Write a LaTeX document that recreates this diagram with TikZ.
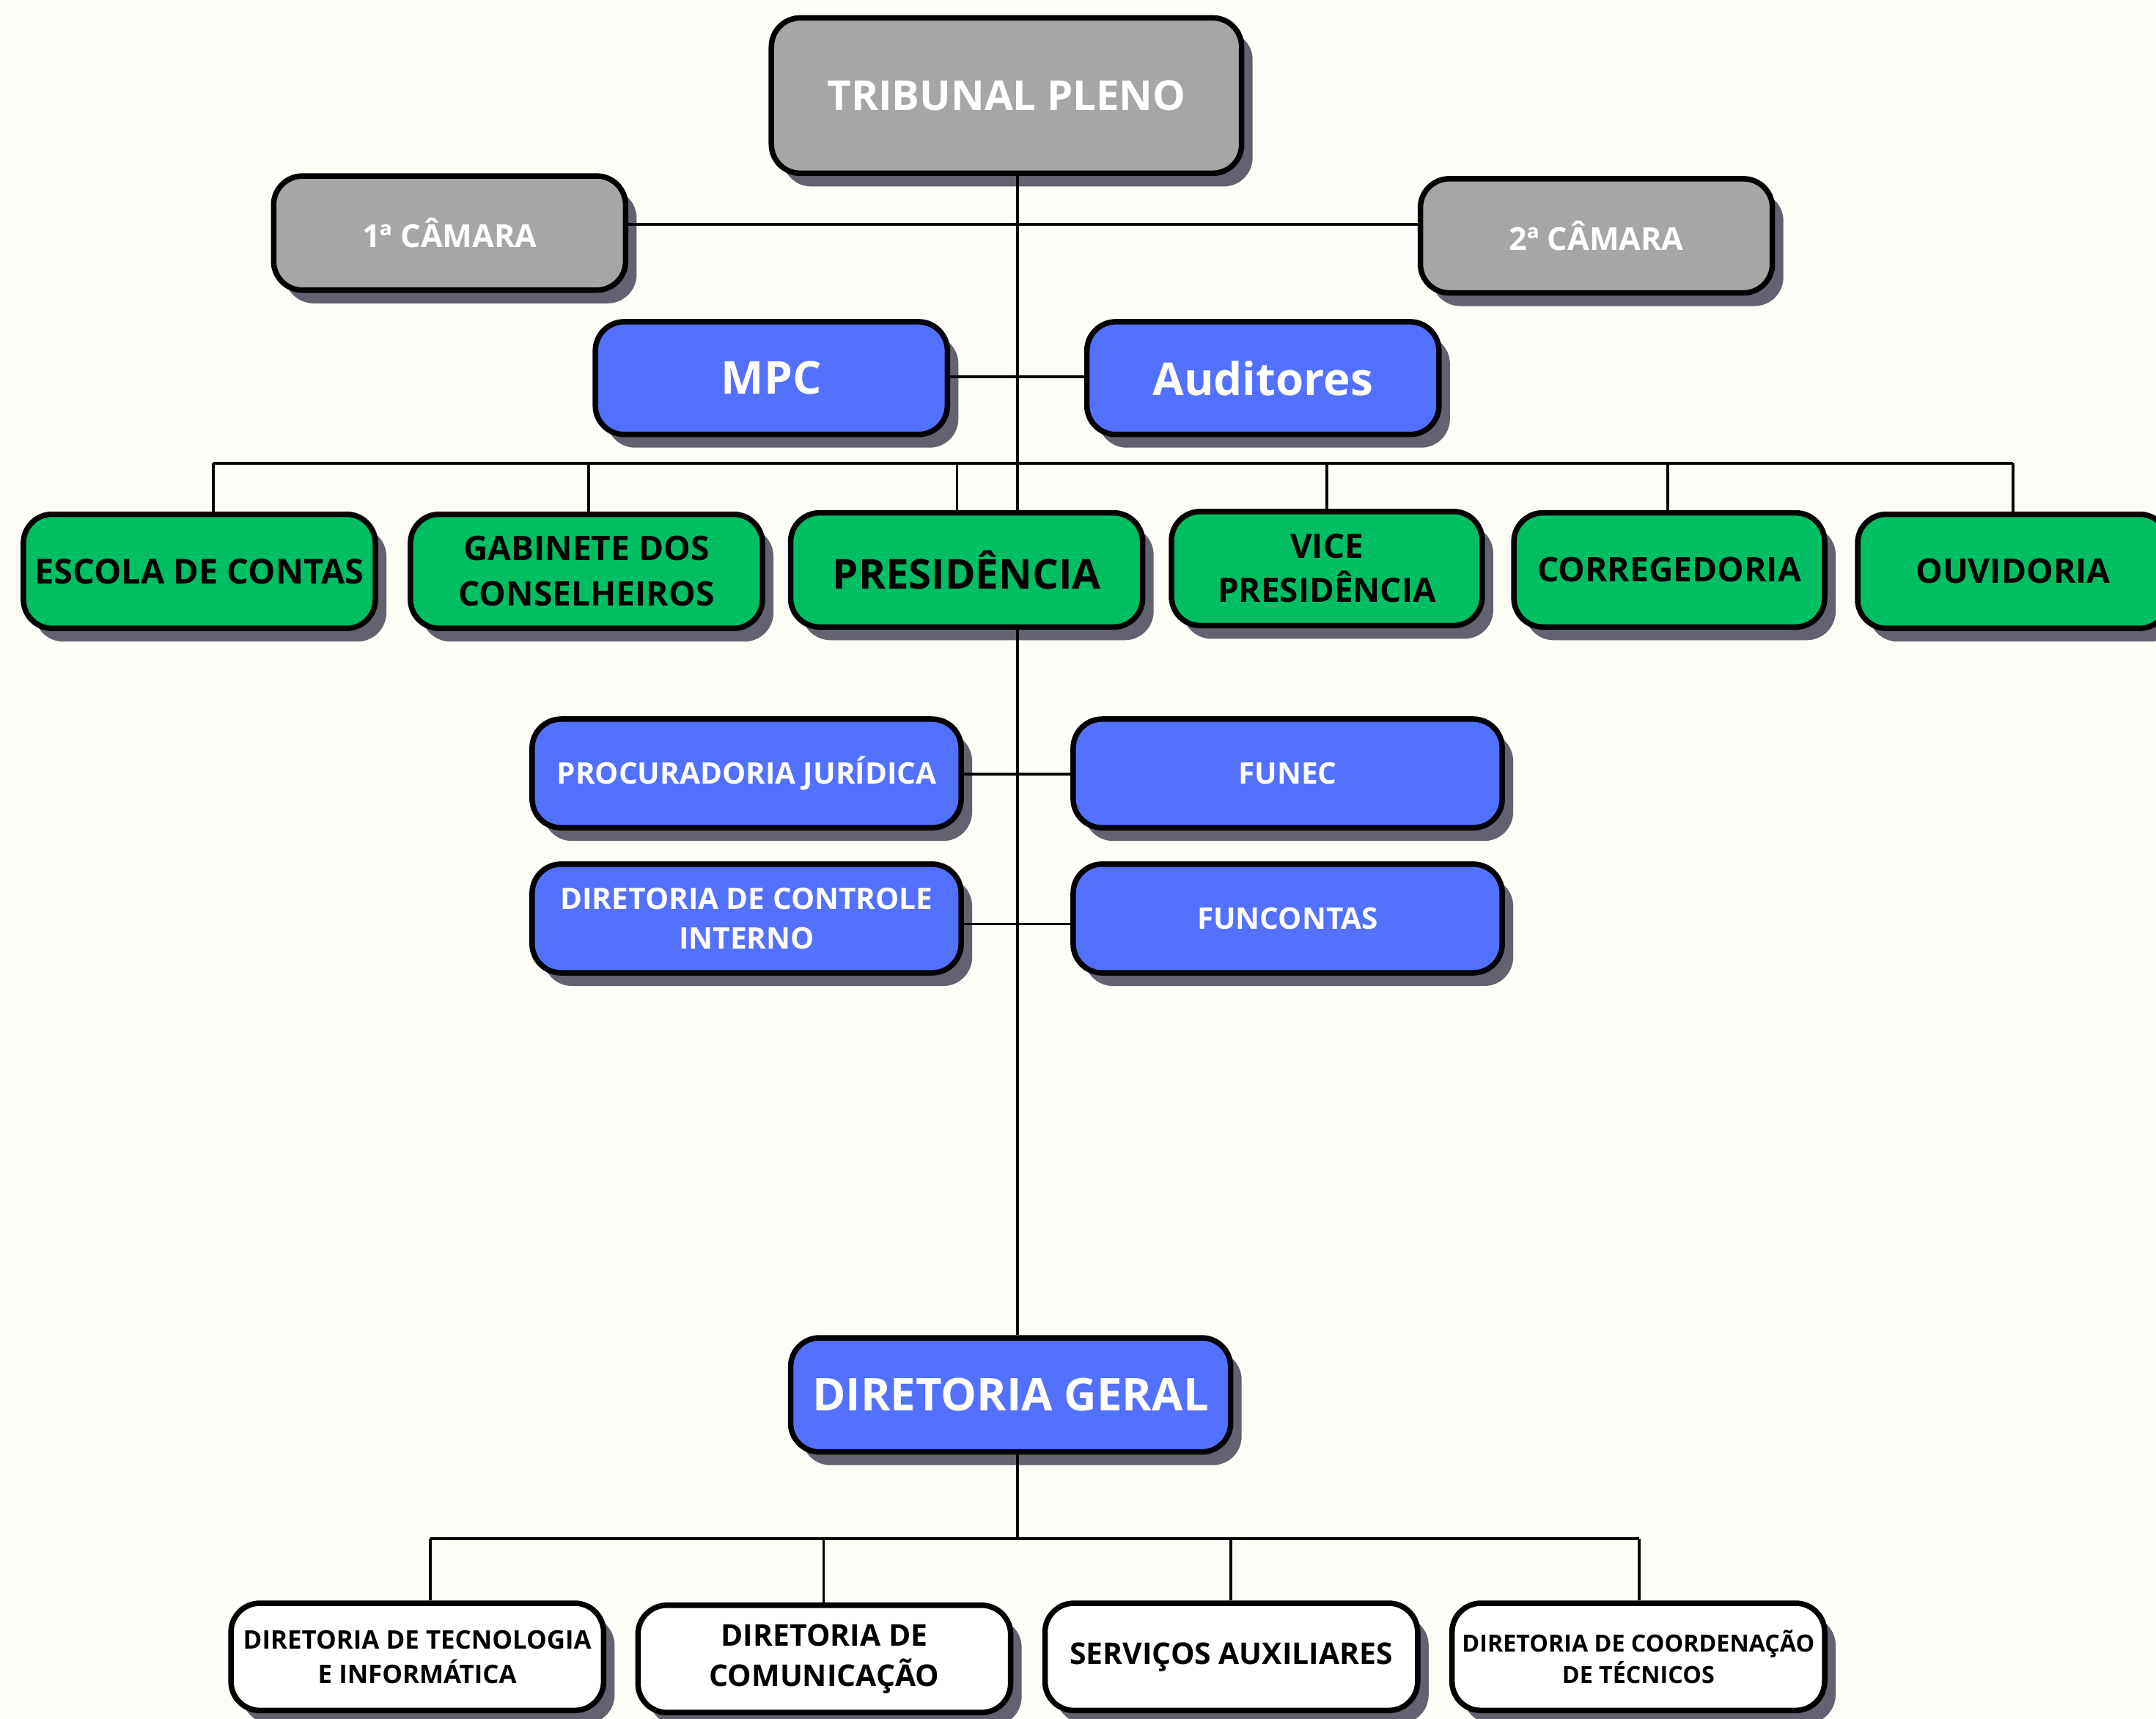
\documentclass[tikz,border=0pt]{standalone}
\usepackage{fontspec}
\setmainfont{Open Sans}
\usetikzlibrary{shadows}
\definecolor{bgc}{RGB}{253,252,247}
\definecolor{grayc}{RGB}{166,166,166}
\definecolor{bluec}{RGB}{82,113,255}
\definecolor{greenc}{RGB}{0,191,99}
\definecolor{shadowc}{RGB}{99,98,112}
\tikzset{
  box/.style={draw=black, line width=2pt, rounded corners=10.5pt, align=center, inner sep=0pt,
    drop shadow={shadow xshift=4pt, shadow yshift=-4.8pt, fill=shadowc, opacity=1}},
  graybox/.style={box, fill=grayc, text=white},
  bluebox/.style={box, fill=bluec, text=white},
  greenbox/.style={box, fill=greenc, text=black},
  whitebox/.style={box, fill=white, text=black},
  conn/.style={draw=black, line width=1pt},
}
\newcommand{\fs}[2]{\fontsize{#1}{#2}\selectfont\bfseries}
\begin{document}
\begin{tikzpicture}[x=0.5pt,y=-0.5pt]
\fill[bgc] (0,0) rectangle (1568,1250);
\useasboundingbox (0,0) rectangle (1568,1250);

% coordinates for connector routing
\coordinate (sp) at (740,0);
\coordinate (hc) at (0,163);
\coordinate (hm) at (0,274);
\coordinate (bus) at (0,337);
\coordinate (hp) at (0,563);
\coordinate (hd) at (0,672);
\coordinate (bus2) at (0,1119);
\coordinate (d1) at (155,0);
\coordinate (d2) at (428,0);
\coordinate (d3) at (696,0);
\coordinate (d4) at (965,0);
\coordinate (d5) at (1213,0);
\coordinate (d6) at (1464,0);
\coordinate (b1) at (313,0);
\coordinate (b2) at (599,0);
\coordinate (b3) at (895,0);
\coordinate (b4) at (1192,0);

\node[graybox, minimum width=171pt, minimum height=56.5pt, font=\fs{15}{18}] (tp) at (732,69.5) {TRIBUNAL PLENO};
\node[graybox, minimum width=128pt, minimum height=41.5pt, font=\fs{11.5}{14}] (cam1) at (327,169.5) {1ª CÂMARA};
\node[graybox, minimum width=128pt, minimum height=41.5pt, font=\fs{11.5}{14}] (cam2) at (1161,171.5) {2ª CÂMARA};

\node[bluebox, minimum width=128pt, minimum height=41pt, font=\fs{16.5}{20}] (mpc) at (561,275) {MPC};
\node[bluebox, minimum width=128pt, minimum height=41pt, font=\fs{16.5}{20}] (aud) at (918.5,275) {Auditores};

\node[greenbox, minimum width=128pt, minimum height=41.5pt, font=\fs{12.5}{16.5}] (esc) at (145,415.5) {ESCOLA DE CONTAS};
\node[greenbox, minimum width=128pt, minimum height=41.5pt, font=\fs{12.3}{16.5}] (gab) at (426.5,415.5) {GABINETE DOS\\CONSELHEIROS};
\node[greenbox, minimum width=128pt, minimum height=41.5pt, font=\fs{15}{18}] (pres) at (703,414.5) {PRESIDÊNCIA};
\node[greenbox, minimum width=113pt, minimum height=41.5pt, font=\fs{12.2}{16}] (vice) at (965,413.5) {VICE\\PRESIDÊNCIA};
\node[greenbox, minimum width=113pt, minimum height=41.5pt, font=\fs{12.3}{16}] (corr) at (1214,414.5) {CORREGEDORIA};
\node[greenbox, minimum width=113pt, minimum height=41.5pt, font=\fs{12.3}{16}] (ouv) at (1464,415.5) {OUVIDORIA};

\node[bluebox, minimum width=156pt, minimum height=39.5pt, font=\fs{10.8}{14.5}] (proc) at (543,562.5) {PROCURADORIA JURÍDICA};
\node[bluebox, minimum width=156pt, minimum height=39.5pt, font=\fs{10.8}{14.5}] (funec) at (936.5,562.5) {FUNEC};
\node[bluebox, minimum width=156pt, minimum height=39.5pt, font=\fs{10.8}{14.5}] (dci) at (543,668) {DIRETORIA DE CONTROLE\\INTERNO};
\node[bluebox, minimum width=156pt, minimum height=39.5pt, font=\fs{10.8}{14.5}] (func) at (936.5,668) {FUNCONTAS};

\node[bluebox, minimum width=160pt, minimum height=41.5pt, font=\fs{16.4}{20}] (dg) at (735,1014.5) {DIRETORIA GERAL};

\node[whitebox, minimum width=135.5pt, minimum height=39pt, font=\fs{9.3}{12.5}] (ti) at (303.5,1205) {DIRETORIA DE TECNOLOGIA\\E INFORMÁTICA};
\node[whitebox, minimum width=135.5pt, minimum height=39pt, font=\fs{10.9}{14.5}] (com) at (599.5,1206.5) {DIRETORIA DE\\COMUNICAÇÃO};
\node[whitebox, minimum width=135.5pt, minimum height=39pt, font=\fs{10.9}{14}] (serv) at (895.5,1205) {SERVIÇOS AUXILIARES};
\node[whitebox, minimum width=135.5pt, minimum height=39pt, font=\fs{8.6}{11.5}] (coord) at (1191.5,1205) {DIRETORIA DE COORDENAÇÃO\\DE TÉCNICOS};

% connectors
\draw[conn] (sp |- tp.south) -- (sp |- pres.north);
\draw[conn] (cam1.east |- hc) -- (cam2.west |- hc);
\draw[conn] (mpc.east |- hm) -- (aud.west |- hm);
\draw[conn] (d1 |- bus) -- (d6 |- bus);
\draw[conn] (d1 |- bus) -- (d1 |- esc.north);
\draw[conn] (d2 |- bus) -- (d2 |- gab.north);
\draw[conn] (d3 |- bus) -- (d3 |- pres.north);
\draw[conn] (d4 |- bus) -- (d4 |- vice.north);
\draw[conn] (d5 |- bus) -- (d5 |- corr.north);
\draw[conn] (d6 |- bus) -- (d6 |- ouv.north);
\draw[conn] (sp |- pres.south) -- (sp |- dg.north);
\draw[conn] (proc.east |- hp) -- (funec.west |- hp);
\draw[conn] (dci.east |- hd) -- (func.west |- hd);
\draw[conn] (sp |- dg.south) -- (sp |- bus2);
\draw[conn] (b1 |- bus2) -- (b4 |- bus2);
\draw[conn] (b1 |- bus2) -- (b1 |- ti.north);
\draw[conn] (b2 |- bus2) -- (b2 |- com.north);
\draw[conn] (b3 |- bus2) -- (b3 |- serv.north);
\draw[conn] (b4 |- bus2) -- (b4 |- coord.north);
\end{tikzpicture}
\end{document}
